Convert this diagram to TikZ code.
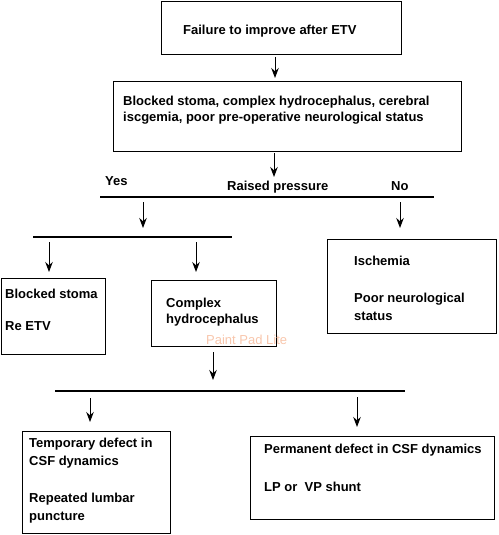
\documentclass[tikz,border=0pt]{standalone}
\usepackage{fontspec}
\setmainfont{Liberation Sans}
\usetikzlibrary{arrows.meta}
\definecolor{padmark}{HTML}{F8C6AC}

\begin{document}
\begin{tikzpicture}[x=1pt,y=-1pt,
  box/.style={draw,line width=1.2pt,inner sep=0pt,anchor=north west},
  txt/.style={anchor=base west,inner sep=0pt,align=left,font=\fontsize{13}{16}\selectfont\bfseries},
  arr/.style={-{Stealth[length=10pt,width=7.5pt]},line width=1pt},
  bar/.style={line width=1.2pt}]
\useasboundingbox (0,0) rectangle (498,535);
% boxes
\node[box,minimum width=240pt,minimum height=53pt] (fail) at (161,1) {};
\node[box,minimum width=348pt,minimum height=70pt] (cause) at (113,81) {};
\node[box,minimum width=104pt,minimum height=76pt] (stoma) at (1,278) {};
\node[box,minimum width=125pt,minimum height=66pt] (complex) at (151,280) {};
\node[box,minimum width=169pt,minimum height=94pt] (isch) at (327,239) {};
\node[box,minimum width=148pt,minimum height=102pt] (temp) at (22,431) {};
\node[box,minimum width=244pt,minimum height=83pt] (perm) at (250,436) {};
% texts (base = last line)
\node[txt] (failtxt) at (183,35) {Failure to improve after ETV};
\node[txt] (causetxt) at (123,121) {Blocked stoma, complex hydrocephalus, cerebral\\iscgemia, poor pre-operative neurological status};
\node[txt] (yes) at (105,185) {Yes};
\node[txt] (raised) at (227,190) {Raised pressure};
\node[txt] (no) at (391,190) {No};
\node[txt] (stomatxt) at (5,330) {Blocked stoma\\[16pt]Re ETV};
\node[txt] (complextxt) at (166,323) {Complex\\hydrocephalus};
\node[txt] (ischtxt) at (354,320) {Ischemia\\[21pt]Poor neurological\\[2pt]status};
\node[txt] (temptxt) at (29,520) {Temporary defect in\\[2pt]CSF dynamics\\[21pt]Repeated lumbar\\[2pt]puncture};
\node[txt] (permtxt) at (264,491) {Permanent defect in CSF dynamics\\[22pt]LP or \ VP shunt};
\node[anchor=base west,inner sep=0pt,padmark,font=\fontsize{13}{16}\selectfont] (paintpad) at (206,344) {Paint Pad Lite};
% split lines
\coordinate (bar1w) at (100,197); \coordinate (bar1e) at (434,197);
\coordinate (bar2w) at (33,237);  \coordinate (bar2e) at (232,237);
\coordinate (bar3w) at (55,391);  \coordinate (bar3e) at (405,391);
\draw[bar] (bar1w) -- (bar1e);
\draw[bar] (bar2w) -- (bar2e);
\draw[bar] (bar3w) -- (bar3e);
% arrows
\coordinate (a1) at (275,57);
\draw[arr,shorten >=3pt] (a1) -- (a1 |- cause.north);
\coordinate (a2) at (274,153); \coordinate (a2e) at (274,177);
\draw[arr] (a2) -- (a2e);
\coordinate (a3) at (143,202); \coordinate (a3e) at (143,228);
\draw[arr] (a3) -- (a3e);
\coordinate (a4) at (400,202);
\draw[arr,shorten >=11pt] (a4) -- (a4 |- isch.north);
\coordinate (a5) at (49,242);
\draw[arr,shorten >=6pt] (a5) -- (a5 |- stoma.north);
\coordinate (a6) at (196,242);
\draw[arr,shorten >=8pt] (a6) -- (a6 |- complex.north);
\coordinate (a7) at (213,352); \coordinate (a7e) at (213,380);
\draw[arr] (a7) -- (a7e);
\coordinate (a8) at (90,398);
\draw[arr,shorten >=9pt] (a8) -- (a8 |- temp.north);
\coordinate (a9) at (357,397);
\draw[arr,shorten >=9pt] (a9) -- (a9 |- perm.north);
\end{tikzpicture}
\end{document}
